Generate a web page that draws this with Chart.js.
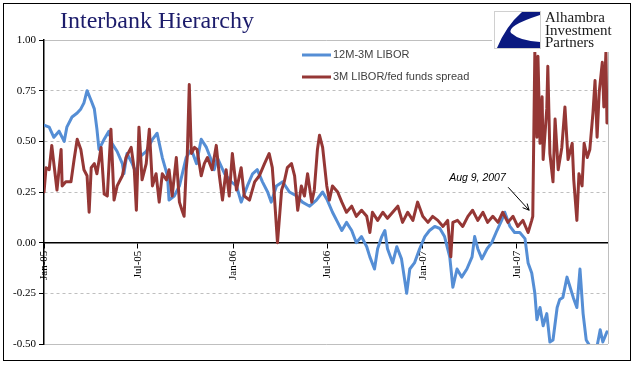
<!DOCTYPE html>
<html>
<head>
<meta charset="utf-8">
<script src="https://cdn.jsdelivr.net/npm/chart.js@4.4.0/dist/chart.umd.min.js"></script>
<style>
html,body{margin:0;padding:0;background:#fff;}
</style>
</head>
<body>
<canvas id="myChart" width="641" height="375"></canvas>
<script>
// days counted from 1 Jan 2005
const tickDays = [0, 181, 365, 546, 730, 911];
const tickLabels = ['Jan-05', 'Jul-05', 'Jan-06', 'Jul-06', 'Jan-07', 'Jul-07'];
const yTicks = [-0.5, -0.25, 0, 0.25, 0.5, 0.75, 1];

const seriesNames = ['12M-3M LIBOR', '3M LIBOR/fed funds spread'];
const seriesColors = ['#558ed5', '#953735'];

const liborDays = [0,10,19,29,39,44,54,64,71,77,
  83,91,97,102,106,116,125,131,141,151,
  154,160,170,178,183,197,209,218,228,238,
  241,251,261,274,284,294,303,313,322,328,
  334,348,361,371,380,392,402,411,421,431,
  438,448,460,473,487,498,512,525,537,546,
  556,566,574,583,593,602,612,622,628,637,
  643,651,657,662,672,680,689,699,705,714,
  724,734,743,753,763,772,782,788,796,805,
  815,825,830,836,844,854,863,873,882,888,
  898,907,917,927,933,940,946,950,956,962,
  969,975,981,989,994,1000,1008,1014,1020,1027,
  1033,1039,1045,1052,1066,1072,1077,1085];
const liborVals = [0.58,0.57,0.52,0.55,0.50,0.57,0.62,0.64,0.66,0.69,
  0.75,0.70,0.66,0.56,0.46,0.51,0.55,0.49,0.45,0.39,
  0.34,0.44,0.39,0.34,0.42,0.45,0.51,0.54,0.42,0.33,
  0.21,0.23,0.28,0.42,0.46,0.39,0.51,0.47,0.41,0.36,
  0.42,0.34,0.30,0.28,0.20,0.28,0.34,0.36,0.30,0.25,
  0.20,0.28,0.30,0.25,0.23,0.20,0.18,0.21,0.25,0.21,
  0.15,0.10,0.06,0.10,0.06,0.00,0.03,-0.02,-0.07,-0.13,
  -0.03,0.03,0.06,-0.03,-0.10,-0.02,-0.08,-0.25,-0.13,-0.10,
  -0.03,0.03,0.06,0.08,0.07,0.03,-0.07,-0.22,-0.13,-0.17,
  -0.13,-0.07,0.03,-0.03,-0.08,-0.03,0.00,0.06,0.11,0.15,
  0.08,0.05,0.05,0.02,-0.10,-0.15,-0.25,-0.38,-0.32,-0.41,
  -0.35,-0.49,-0.48,-0.32,-0.28,-0.27,-0.17,-0.22,-0.27,-0.32,
  -0.13,-0.35,-0.48,-0.51,-0.51,-0.43,-0.49,-0.44];

const spreadDays = [0,4,10,15,19,25,33,35,42,52,
  58,64,71,77,83,87,91,97,102,110,
  116,122,129,135,141,151,158,168,174,178,
  183,189,197,203,209,216,222,228,236,241,
  247,255,261,266,270,274,276,280,284,290,
  295,303,309,315,324,332,338,344,351,357,
  363,371,380,386,396,406,415,425,434,440,
  444,450,458,463,469,477,483,489,496,502,
  508,516,521,527,531,537,545,550,556,566,
  574,583,593,602,612,622,628,633,643,653,
  662,672,682,691,701,711,720,730,740,749,
  759,769,778,784,788,797,807,817,826,836,
  846,855,865,875,884,894,904,913,923,933,
  940,942,946,950,952,956,960,962,969,971,
  975,981,985,991,998,1004,1010,1018,1021,1027,
  1031,1037,1041,1047,1052,1058,1062,1066,1070,1076,
  1079,1083,1085];
const spreadVals = [0.25,0.37,0.36,0.48,0.39,0.26,0.46,0.28,0.30,0.30,
  0.41,0.51,0.46,0.36,0.33,0.15,0.37,0.39,0.34,0.47,
  0.24,0.23,0.56,0.21,0.28,0.33,0.42,0.47,0.36,0.16,
  0.57,0.31,0.39,0.56,0.28,0.34,0.20,0.34,0.31,0.36,
  0.23,0.42,0.20,0.16,0.13,0.36,0.42,0.78,0.44,0.47,
  0.46,0.33,0.39,0.42,0.36,0.48,0.33,0.21,0.36,0.23,
  0.44,0.26,0.37,0.23,0.21,0.30,0.33,0.39,0.44,0.37,
  0.23,0.00,0.26,0.30,0.37,0.39,0.33,0.16,0.28,0.23,
  0.34,0.20,0.26,0.46,0.53,0.47,0.28,0.21,0.28,0.25,
  0.20,0.15,0.18,0.13,0.16,0.13,0.05,0.15,0.11,0.15,
  0.12,0.15,0.18,0.10,0.15,0.11,0.20,0.13,0.10,0.13,
  0.11,0.08,0.11,-0.07,0.10,0.11,0.08,0.13,0.16,0.11,
  0.15,0.10,0.13,0.10,0.15,0.10,0.13,0.08,0.11,0.05,
  0.11,0.13,0.94,0.52,0.92,0.49,0.72,0.41,0.66,0.87,
  0.44,0.30,0.61,0.36,0.47,0.67,0.41,0.49,0.31,0.11,
  0.34,0.28,0.49,0.42,0.46,0.64,0.80,0.52,0.74,0.89,
  0.67,0.94,0.59];

const titleText = 'Interbank Hierarchy';
const logoLines = ['Alhambra', 'Investment', 'Partners'];
const noteText = 'Aug 9, 2007';
const noteDay = 935, noteVal = 0.16;

function toPoints(days, vals) {
  return days.map((d, i) => ({x: d, y: vals[i]}));
}

// title, logo, legend, note and frame
const decor = {
  id: 'decor',
  beforeDraw(chart) {
    const ctx = chart.ctx;
    ctx.save();
    ctx.fillStyle = '#fff';
    ctx.fillRect(0, 0, chart.width, chart.height);
    ctx.restore();
  },
  beforeDatasetsDraw(chart) {
    const ctx = chart.ctx, a = chart.chartArea;
    ctx.save();
    ctx.strokeStyle = '#bfbfbf';
    ctx.lineWidth = 1;
    ctx.beginPath();
    ctx.moveTo(a.right + 0.5, a.top);
    ctx.lineTo(a.right + 0.5, a.bottom);
    ctx.stroke();
    ctx.restore();
  },
  afterDraw(chart) {
    const ctx = chart.ctx;
    const xs = chart.scales.x, ys = chart.scales.y;
    ctx.save();

    // outer frame
    ctx.strokeStyle = '#000';
    ctx.lineWidth = 1;
    ctx.strokeRect(3.5, 3.5, 627, 357);

    // title
    ctx.fillStyle = '#1c1c6b';
    ctx.font = '24px "Liberation Serif"';
    ctx.textBaseline = 'alphabetic';
    ctx.textAlign = 'left';
    ctx.fillText(titleText, 60, 28);

    // logo
    ctx.fillStyle = '#fff';
    ctx.fillRect(492, 5, 124, 47);
    ctx.strokeStyle = '#d0d0d0';
    ctx.strokeRect(494.5, 11.5, 46, 37);
    ctx.fillStyle = '#0b1a80';
    ctx.beginPath();
    ctx.moveTo(522, 12);
    ctx.lineTo(540, 12);
    ctx.lineTo(540, 15);
    ctx.quadraticCurveTo(506, 26, 511, 33);
    ctx.quadraticCurveTo(520, 41, 540, 42);
    ctx.lineTo(540, 48);
    ctx.lineTo(497, 48);
    ctx.quadraticCurveTo(506, 26, 522, 12);
    ctx.fill();
    ctx.fillStyle = '#1a1a1a';
    ctx.font = '15px "Liberation Serif"';
    logoLines.forEach((t, i) => ctx.fillText(t, 545, 22 + i * 12.5));

    // legend
    ctx.font = '11px "Liberation Sans"';
    ctx.textBaseline = 'middle';
    seriesNames.forEach((name, i) => {
      const y = 55 + i * 22;
      ctx.strokeStyle = seriesColors[i];
      ctx.lineWidth = 3;
      ctx.beginPath();
      ctx.moveTo(302, y);
      ctx.lineTo(331, y);
      ctx.stroke();
      ctx.fillStyle = '#404040';
      ctx.fillText(name, 333, y);
    });

    // Aug 9 note with arrow
    const tx = xs.getPixelForValue(noteDay), ty = ys.getPixelForValue(noteVal);
    ctx.fillStyle = '#000';
    ctx.font = 'italic 10.5px "Liberation Sans"';
    ctx.textBaseline = 'alphabetic';
    ctx.fillText(noteText, tx - 80, ty - 29);
    const sx = tx - 21, sy = ty - 23;
    ctx.strokeStyle = '#000';
    ctx.lineWidth = 1;
    ctx.beginPath();
    ctx.moveTo(sx, sy);
    ctx.lineTo(tx, ty);
    const ang = Math.atan2(ty - sy, tx - sx);
    ctx.moveTo(tx - 7 * Math.cos(ang - 0.45), ty - 7 * Math.sin(ang - 0.45));
    ctx.lineTo(tx, ty);
    ctx.lineTo(tx - 7 * Math.cos(ang + 0.45), ty - 7 * Math.sin(ang + 0.45));
    ctx.stroke();

    ctx.restore();
  }
};

const ctx = document.getElementById('myChart').getContext('2d');
const myChart = new Chart(ctx, {
  type: 'line',
  data: {
    datasets: [{
      label: seriesNames[0],
      data: toPoints(liborDays, liborVals),
      borderColor: seriesColors[0],
      order: 1
    }, {
      label: seriesNames[1],
      data: toPoints(spreadDays, spreadVals),
      borderColor: seriesColors[1],
      order: 0
    }]
  },
  options: {
    responsive: false,
    animation: false,
    layout: {padding: {left: 0, right: 33, top: 40, bottom: 31}},
    plugins: {
      legend: {display: false},
      tooltip: {enabled: false},
      title: {display: false}
    },
    elements: {
      point: {radius: 0},
      line: {tension: 0, borderWidth: 3, borderJoinStyle: 'round', borderCapStyle: 'round', fill: false}
    },
    scales: {
      x: {
        type: 'linear',
        position: {y: 0},
        min: 0,
        max: 1087,
        afterBuildTicks: s => { s.ticks = tickDays.map(v => ({value: v})); },
        ticks: {
          autoSkip: false,
          minRotation: 90,
          maxRotation: 90,
          padding: 3,
          color: '#000',
          font: {family: '"Liberation Serif"', size: 11},
          callback: v => tickLabels[tickDays.indexOf(v)]
        },
        grid: {drawOnChartArea: false, drawTicks: true, tickLength: 5, tickColor: '#000'},
        border: {display: true, color: '#000', width: 1.5}
      },
      y: {
        min: -0.5,
        max: 1,
        afterBuildTicks: s => { s.ticks = yTicks.map(v => ({value: v})); },
        afterFit: s => { s.width = 44; },
        ticks: {
          padding: 3,
          color: '#000',
          font: {family: '"Liberation Serif"', size: 11},
          callback: v => v.toFixed(2)
        },
        grid: {
          color: c => (c.tick && c.tick.value === 0) ? 'rgba(0,0,0,0)' : '#bfbfbf',
          tickColor: '#000',
          tickLength: 5,
          lineWidth: 1
        },
        border: {
          display: true,
          color: '#000',
          width: 1.5,
          dash: c => (c.tick && c.tick.value > -0.5 && c.tick.value < 1) ? [3, 3] : []
        }
      }
    }
  },
  plugins: [decor]
});
</script>
</body>
</html>
